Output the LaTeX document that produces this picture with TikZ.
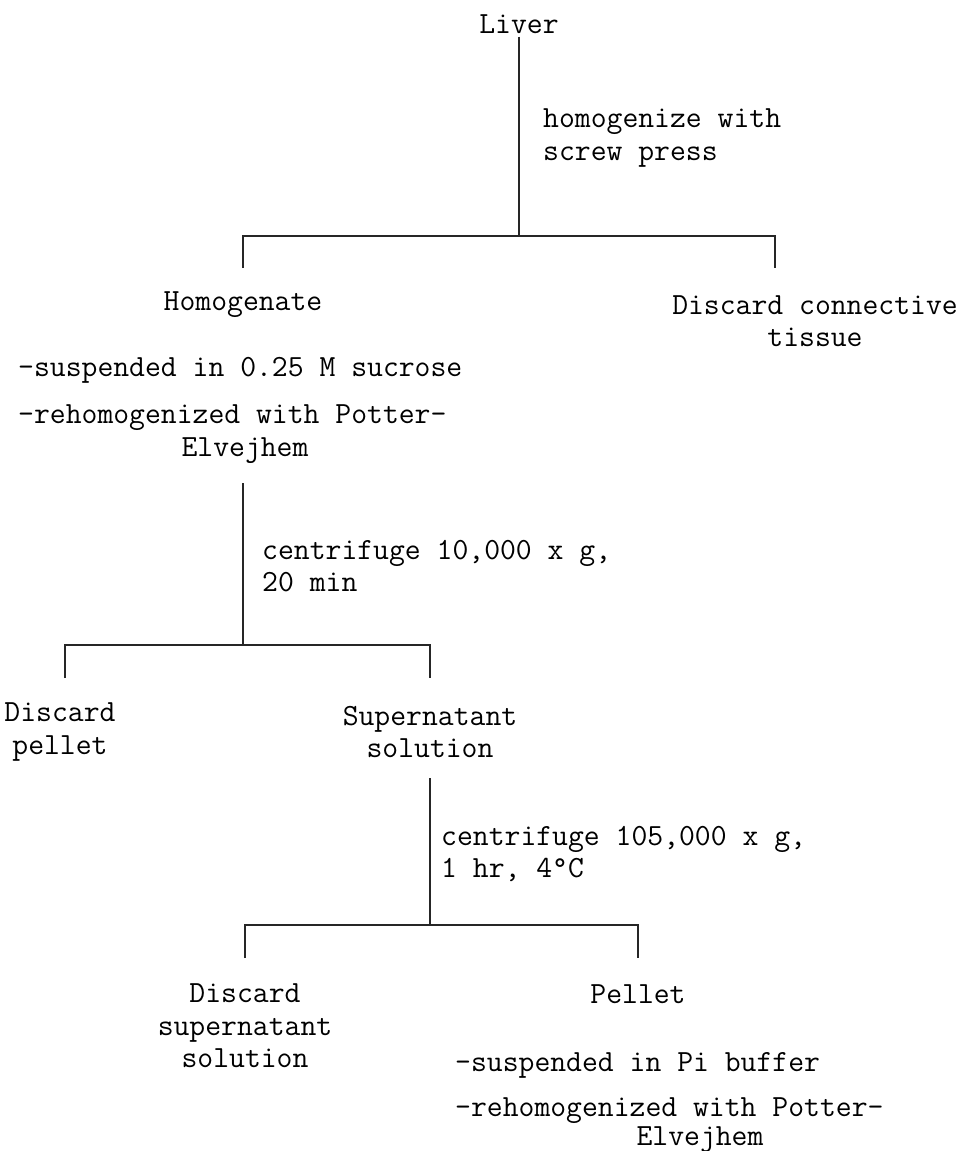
\documentclass[tikz,border=0pt]{standalone}
\usepackage{fontspec}
\setmonofont{Latin Modern Mono}
\begin{document}
\begin{tikzpicture}[x=1pt,y=-1pt,
  txt/.style={inner sep=0pt,font=\fontsize{30.8}{32.5}\selectfont\ttfamily,align=center},
  lbl/.style={txt,anchor=west,align=left},
  conn/.style={line width=1.6pt,black!85}]
\useasboundingbox (0,0) rectangle (965,1151);
% nodes
\node[txt] (liver) at (519,24) {Liver};
\node[lbl] (l1) at (543,138) {homogenize with\\screw press};
\node[txt] (homog) at (243,305) {Homogenate};
\node[txt] (dct) at (815,321) {Discard connective\\tissue};
\node[lbl] (s1) at (18,370) {-suspended in 0.25 M sucrose};
\node[lbl] (r1) at (18,418) {-rehomogenized with Potter-};
\node[txt] (e1) at (245,451) {Elvejhem};
\node[lbl] (l2) at (262,566) {centrifuge 10,000 x g,\\20 min};
\node[txt] (dp) at (60,732) {Discard\\pellet};
\node[txt] (sup) at (430,732) {Supernatant\\solution};
\node[lbl] (l3) at (441,854) {centrifuge 105,000 x g,\\1 hr, 4°C};
\node[txt] (dss) at (245,1026) {Discard\\supernatant\\solution};
\node[txt] (pel) at (638,994) {Pellet};
\node[lbl] (s2) at (455,1065) {-suspended in Pi buffer};
\node[lbl] (r2) at (455,1111) {-rehomogenized with Potter-};
\node[txt] (e2) at (700,1140) {Elvejhem};
% junction coordinates
\coordinate (j1) at (519,236);
\coordinate (j1l) at (243,236);
\coordinate (j1r) at (775,236);
\coordinate (t1l) at (243,268);
\coordinate (t1r) at (775,268);
\coordinate (v2a) at (243,483);
\coordinate (j2) at (243,645);
\coordinate (j2l) at (65,645);
\coordinate (j2r) at (430,645);
\coordinate (t2l) at (65,678);
\coordinate (t2r) at (430,678);
\coordinate (v3a) at (430,778);
\coordinate (j3) at (430,925);
\coordinate (j3l) at (245,925);
\coordinate (j3r) at (638,925);
\coordinate (t3l) at (245,958);
\coordinate (t3r) at (638,958);
% connectors
\draw[conn] (liver.south) ++(0,3) -- (j1);
\draw[conn] (t1l) -- (j1l) -- (j1r) -- (t1r);
\draw[conn] (v2a) -- (j2);
\draw[conn] (t2l) -- (j2l) -- (j2r) -- (t2r);
\draw[conn] (v3a) -- (j3);
\draw[conn] (t3l) -- (j3l) -- (j3r) -- (t3r);
\end{tikzpicture}
\end{document}
